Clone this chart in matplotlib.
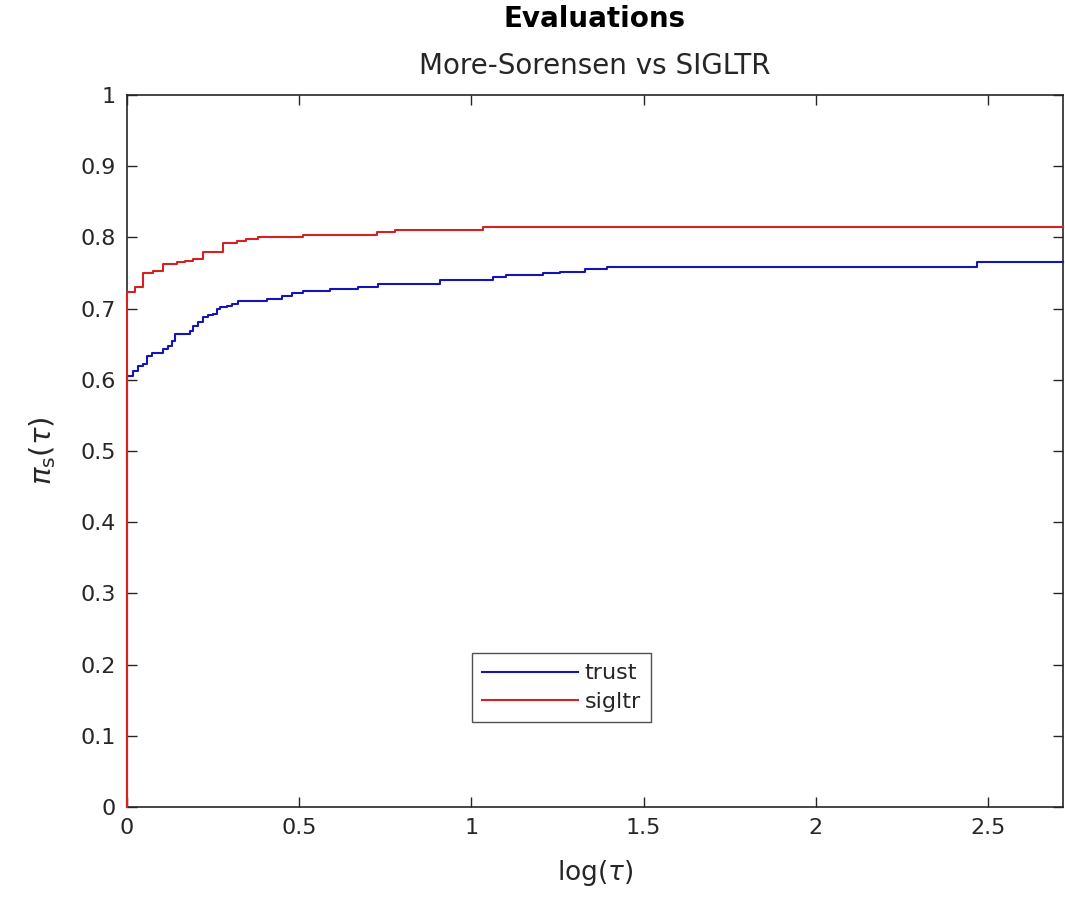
import matplotlib
matplotlib.use('Agg')
import matplotlib.pyplot as plt

# performance profile data (log(tau), fraction of problems)
trust_x = [0, 0, 0.018, 0.033, 0.047, 0.057, 0.072, 0.105, 0.120, 0.130, 0.139,
           0.183, 0.193, 0.207, 0.222, 0.236, 0.251, 0.260, 0.270, 0.289, 0.304,
           0.323, 0.406, 0.449, 0.478, 0.512, 0.589, 0.672, 0.730, 0.909, 1.064,
           1.102, 1.209, 1.257, 1.330, 1.393, 2.467, 2.718]
trust_y = [0, 0.606, 0.613, 0.620, 0.622, 0.634, 0.638, 0.643, 0.648, 0.655, 0.664,
           0.669, 0.676, 0.681, 0.688, 0.691, 0.693, 0.699, 0.702, 0.704, 0.706,
           0.710, 0.713, 0.718, 0.722, 0.725, 0.728, 0.731, 0.734, 0.740, 0.744,
           0.747, 0.750, 0.752, 0.755, 0.759, 0.765, 0.765]

sigltr_x = [0, 0, 0.023, 0.047, 0.076, 0.105, 0.144, 0.168, 0.193, 0.222, 0.280,
            0.318, 0.347, 0.381, 0.512, 0.725, 0.778, 1.033, 2.718]
sigltr_y = [0, 0.724, 0.730, 0.750, 0.753, 0.762, 0.765, 0.767, 0.770, 0.780, 0.792,
            0.795, 0.798, 0.801, 0.804, 0.807, 0.810, 0.814, 0.814]

x_ticks = [0, 0.5, 1, 1.5, 2, 2.5]
y_ticks = [0, 0.1, 0.2, 0.3, 0.4, 0.5, 0.6, 0.7, 0.8, 0.9, 1]

axis_col = '#262626'

fig = plt.figure(figsize=(10.65, 9.01), dpi=100)
ax = fig.add_axes([127 / 1065, 94 / 901, 936 / 1065, 712 / 901])

# lines drawn over the spines, like the matlab figure
ax.plot(trust_x, trust_y, drawstyle='steps-post', color='#1515b5', lw=1.5,
        label='trust', zorder=3, clip_on=False)
ax.plot(sigltr_x, sigltr_y, drawstyle='steps-post', color='#d42222', lw=1.5,
        label='sigltr', zorder=3, clip_on=False)

ax.set_xlim(0, 2.718)
ax.set_ylim(0, 1)
ax.set_xticks(x_ticks)
ax.set_xticklabels(['0', '0.5', '1', '1.5', '2', '2.5'])
ax.set_yticks(y_ticks)
ax.set_yticklabels(['0', '0.1', '0.2', '0.3', '0.4', '0.5', '0.6', '0.7', '0.8', '0.9', '1'])
ax.tick_params(direction='in', top=True, right=True, length=7, width=1,
               labelsize=16, colors=axis_col, pad=8)
for s in ax.spines.values():
    s.set_color(axis_col)
    s.set_linewidth(1.2)
    s.set_zorder(2)

ax.set_xlabel(r'log($\tau$)', fontsize=19, color=axis_col, labelpad=14)
ax.set_ylabel(r'$\pi_{\rm s}(\tau)$', fontsize=21, color=axis_col, labelpad=16)

fig.text(595 / 1065, 1 - 19 / 901, 'Evaluations', ha='center', va='center',
         fontsize=20, fontweight='bold', color='black')
fig.text(595 / 1065, 1 - 66 / 901, 'More-Sorensen vs SIGLTR', ha='center', va='center',
         fontsize=20, color=axis_col)

leg = ax.legend(loc='lower left', bbox_to_anchor=(0.369, 0.119), fontsize=16,
                handlelength=4.3, frameon=True, fancybox=False, borderpad=0.45,
                labelspacing=0.4, handletextpad=0.3, borderaxespad=0)
leg.get_frame().set_edgecolor(axis_col)
leg.get_frame().set_linewidth(1.0)
for t in leg.get_texts():
    t.set_color(axis_col)

fig.savefig('out.png', dpi=100)
